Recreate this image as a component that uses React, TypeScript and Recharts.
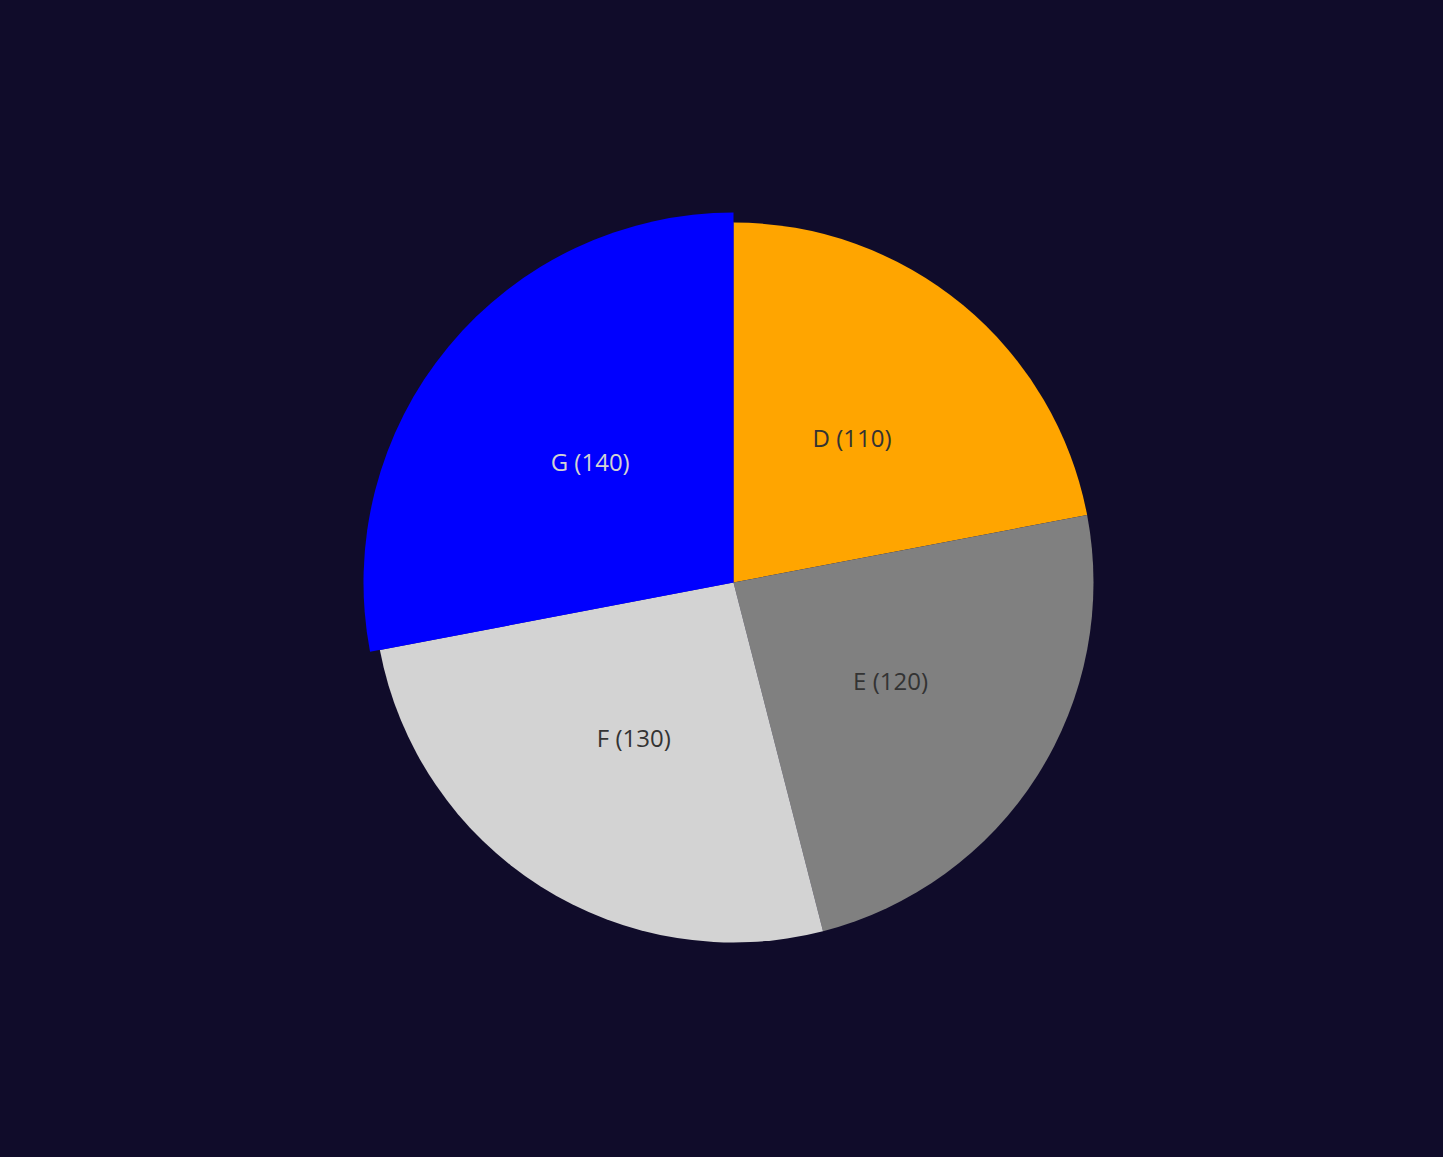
import React from "react";
import { PieChart, Pie, Cell } from "recharts";

const names = ["D", "E", "F", "G"];
const values = [110, 120, 130, 140];
const colors = ["#FFA500", "#808080", "#D3D3D3", "#0000FF"];
const labelColors = ["#333333", "#333333", "#333333", "#d3d3d3"];
const highlighted = "G";

const data = names.map((name, i) => ({ name, value: values[i] }));

const RADIAN = Math.PI / 180;

const renderLabel = (props: any) => {
    const { cx, cy, midAngle, index } = props;
    const r = 186;
    const x = cx + r * Math.cos(-midAngle * RADIAN);
    const y = cy + r * Math.sin(-midAngle * RADIAN) - 2;
    return (
        <text
            x={x}
            y={y}
            fill={labelColors[index]}
            textAnchor="middle"
            dominantBaseline="central"
            fontSize={24}
            fontFamily="'Open Sans', sans-serif"
        >
            {`${names[index]} (${values[index]})`}
        </text>
    );
};

export default function App() {
    return (
        <div
            style={{
                position: "absolute",
                left: 0,
                top: 0,
                width: 1443,
                height: 1157,
                background: "#100c2a",
            }}
        >
            <PieChart width={1443} height={1157} margin={{ top: 0, right: 0, bottom: 0, left: 0 }}>
                {/* enlarged highlighted slice underneath */}
                <Pie
                    data={data}
                    dataKey="value"
                    cx={733.5}
                    cy={582.5}
                    outerRadius={370}
                    startAngle={90}
                    endAngle={-270}
                    stroke="none"
                    isAnimationActive={false}
                >
                    {data.map((d, i) => (
                        <Cell
                            key={d.name}
                            fill={d.name === highlighted ? colors[i] : "transparent"}
                        />
                    ))}
                </Pie>
                <Pie
                    data={data}
                    dataKey="value"
                    cx={733.5}
                    cy={582.5}
                    outerRadius={360}
                    startAngle={90}
                    endAngle={-270}
                    stroke="none"
                    labelLine={false}
                    label={renderLabel}
                    isAnimationActive={false}
                >
                    {data.map((d, i) => (
                        <Cell key={d.name} fill={colors[i]} />
                    ))}
                </Pie>
            </PieChart>
        </div>
    );
}
